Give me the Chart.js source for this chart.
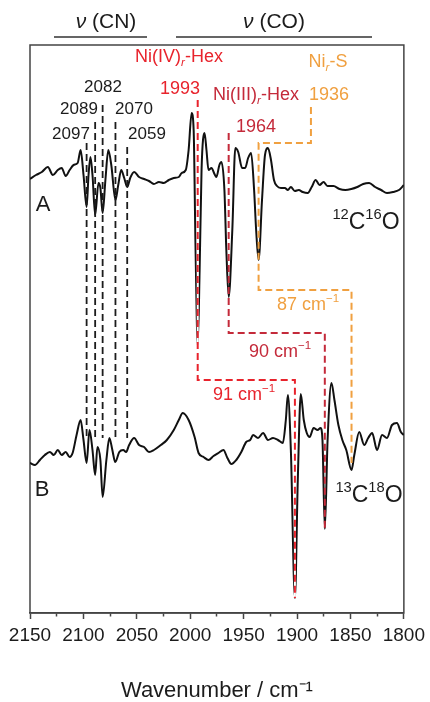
<!DOCTYPE html>
<html>
<head>
<meta charset="utf-8">
<script src="https://cdn.jsdelivr.net/npm/chart.js@4.4.1/dist/chart.umd.min.js"></script>
<style>
html, body { margin: 0; padding: 0; background: #fff; }
</style>
</head>
<body>
<canvas id="irChart" width="430" height="702"></canvas>
<script>
// IR difference spectra, intensities in arbitrary units
const waveA = [
	2150, 2144.4, 2138.9, 2133.3, 2128.6, 2124.0, 2120.3, 2116.6, 2112.9, 2109.2,
	2105.4, 2102.6, 2099.9, 2097, 2095.2, 2093.4, 2091.5, 2089, 2085.9, 2084.1,
	2082, 2079.4, 2076.7, 2073.9, 2070, 2067.4, 2064.6, 2061.8, 2059, 2056.2,
	2052.5, 2047.9, 2043.2, 2038.6, 2034.0, 2029.3, 2024.7, 2020.0, 2015.4, 2010.7,
	2008.0, 2004.2, 2001.5, 1998.7, 1996.8, 1995.0, 1993, 1991.2, 1989.4, 1986.6,
	1984.8, 1982.9, 1980.1, 1977.3, 1975.5, 1972.7, 1970.8, 1968.0, 1966.2, 1964,
	1960.6, 1957.8, 1955.1, 1951.4, 1948.6, 1945.8, 1943.0, 1940.2, 1938.3, 1936,
	1932.8, 1930.0, 1927.2, 1924.4, 1921.6, 1918.8, 1915.1, 1911.4, 1908.6, 1905.8,
	1902.1, 1898.4, 1894.7, 1890.0, 1886.3, 1882.6, 1878.9, 1875.2, 1871.5, 1865.9,
	1860.3, 1854.8, 1849.2, 1843.6, 1838.1, 1832.5, 1826.9, 1821.3, 1815.8, 1810.2,
	1804.6, 1800
];
const traceA = [
	434, 438, 441, 446, 438, 443, 445, 437, 443, 448,
	450, 463, 438, 406, 438, 456, 438, 398, 430, 425,
	400, 433, 463, 448, 413, 428, 443, 435, 426, 435,
	441, 436, 434, 432, 429, 431, 430, 433, 435, 436,
	440, 443, 463, 500, 483, 363, 268, 343, 443, 480,
	463, 443, 445, 439, 436, 448, 451, 423, 363, 316,
	383, 465, 461, 445, 445, 455, 460, 423, 383, 353,
	413, 458, 465, 453, 433, 427, 425, 425, 423, 426,
	422, 423, 421, 420, 426, 433, 428, 431, 427, 427,
	424, 423, 424, 426, 429, 430, 426, 423, 420, 421,
	423, 428
];
const waveB = [
	2150, 2145.4, 2140.7, 2136.1, 2131.4, 2127.7, 2124.0, 2120.3, 2116.6, 2112.9,
	2110.1, 2106.4, 2102.6, 2099.9, 2097, 2094.3, 2091.5, 2089, 2086.9, 2084.1,
	2082, 2078.5, 2075.7, 2072.9, 2070.2, 2066.4, 2062.7, 2060.0, 2057.2, 2052.5,
	2047.9, 2043.2, 2038.6, 2034.0, 2027.5, 2021.9, 2015.4, 2010.7, 2007.0, 2001.5,
	1995.9, 1992.2, 1987.5, 1982.9, 1978.2, 1973.6, 1968.9, 1965.2, 1961.5, 1956.9,
	1952.2, 1947.6, 1943.9, 1941.1, 1936.5, 1931.8, 1927.2, 1922.5, 1917.9, 1913.3,
	1910.5, 1908.6, 1905.8, 1902, 1899.3, 1896.5, 1893.7, 1890.9, 1888.2, 1884.5,
	1880.8, 1878.0, 1876.2, 1874, 1871.4, 1867.8, 1865.0, 1861.3, 1857.6, 1853.9,
	1849, 1846.4, 1841.8, 1837.1, 1833.4, 1829.7, 1825.1, 1820.4, 1815.8, 1811.1,
	1806.5, 1802.8, 1800
];
const traceB = [
	150, 148, 153, 158, 161, 158, 163, 158, 161, 156,
	160, 178, 193, 173, 150, 183, 163, 138, 166, 153,
	116, 153, 175, 163, 151, 161, 163, 161, 168, 175,
	168, 166, 161, 163, 168, 173, 183, 193, 200, 193,
	176, 160, 156, 153, 157, 160, 163, 155, 149, 153,
	161, 171, 173, 178, 175, 180, 173, 175, 173, 170,
	193, 218, 163, 15, 133, 219, 193, 180, 176, 185,
	183, 185, 173, 84, 173, 230, 213, 188, 173, 163,
	143, 158, 181, 168, 175, 180, 163, 178, 175, 188,
	190, 181, 178
];

// band positions (cm-1)
const cnPeaks = [2097, 2089, 2082, 2070, 2059];
const coPeaksA = [1993, 1964, 1936];
const isoShifts = [91, 90, 87];
const coPeaksB = coPeaksA.map((p, i) => p - isoShifts[i]);

const FONT = '"Liberation Sans", Arial, sans-serif';
const RED = '#e8232c';
const CRIMSON = '#c42a3a';
const ORANGE = '#f0a040';
const INK = '#1c1c1c';

function toPoints(xs, ys) {
	return xs.map((w, i) => ({ x: w, y: ys[i] }));
}

// draws text made of pieces: '' normal, 'it' italic, 'sub' italic subscript, 'sup' superscript
function richText(ctx, parts, cx, cy, size, color) {
	let total = 0;
	const pieces = parts.map(([t, kind]) => {
		const s = (kind === 'sub' || kind === 'sup') ? size * 0.64 : size;
		const font = ((kind === 'it' || kind === 'sub') ? 'italic ' : '') + s + 'px ' + FONT;
		ctx.font = font;
		const w = ctx.measureText(t).width;
		total += w;
		return { t, kind, font, w };
	});
	let x = cx - total / 2;
	ctx.fillStyle = color;
	ctx.textAlign = 'left';
	ctx.textBaseline = 'middle';
	pieces.forEach(p => {
		let y = cy;
		if (p.kind === 'sub') y = cy + size * 0.32;
		if (p.kind === 'sup') y = cy - size * 0.36;
		ctx.font = p.font;
		ctx.fillText(p.t, x, y);
		x += p.w;
	});
}

const boxPlugin = {
	id: 'box',
	beforeDatasetsDraw(chart) {
		const { ctx, chartArea: a } = chart;
		ctx.save();
		ctx.strokeStyle = '#444';
		ctx.lineWidth = 1.5;
		ctx.strokeRect(a.left, a.top, a.right - a.left, a.bottom - a.top);
		ctx.restore();
	}
};

const guidePlugin = {
	id: 'guides',
	afterDatasetsDraw(chart) {
		const { ctx, scales: { x, y } } = chart;
		const path = (pts, color, width, under) => {
			ctx.save();
			ctx.beginPath();
			pts.forEach(([w, v], i) => {
				const px = x.getPixelForValue(w), py = y.getPixelForValue(v);
				if (i === 0) ctx.moveTo(px, py); else ctx.lineTo(px, py);
			});
			if (under) {
				ctx.strokeStyle = '#fff';
				ctx.lineWidth = width;
				ctx.stroke();
			}
			ctx.setLineDash([7, 4]);
			ctx.strokeStyle = color;
			ctx.lineWidth = width;
			ctx.stroke();
			ctx.restore();
		};
		const cnTop = [470, 491, 508, 491, 466];
		cnPeaks.forEach((p, i) => path([[p, cnTop[i]], [p, 175]], INK, 1.8, false));

		path([[coPeaksA[0], 513], [coPeaksA[0], 233], [coPeaksB[0], 233], [coPeaksB[0], 15]], RED, 2, true);
		path([[coPeaksA[1], 480], [coPeaksA[1], 280], [coPeaksB[1], 280], [coPeaksB[1], 85]], CRIMSON, 2, false);
		path([[1887, 506], [1887, 470], [coPeaksA[2], 470], [coPeaksA[2], 323], [coPeaksB[2], 323], [coPeaksB[2], 150]], ORANGE, 2, false);
	},
	afterDraw(chart) {
		const { ctx } = chart;
		ctx.save();
		// band group headers
		richText(ctx, [['ν', 'it'], [' (CN)', '']], 106, 22, 21, INK);
		richText(ctx, [['ν', 'it'], [' (CO)', '']], 274, 22, 21, INK);
		ctx.strokeStyle = '#333';
		ctx.lineWidth = 1.5;
		ctx.beginPath();
		ctx.moveTo(54, 37); ctx.lineTo(147, 37);
		ctx.moveTo(176, 37); ctx.lineTo(372, 37);
		ctx.stroke();

		// CN band labels
		const cnPos = [[71, 134], [79, 109], [103, 87], [134, 109], [147, 134]];
		cnPeaks.forEach((p, i) => richText(ctx, [[String(p), '']], cnPos[i][0], cnPos[i][1], 17, INK));

		// CO band labels
		richText(ctx, [['Ni(IV)', ''], ['r', 'sub'], ['-Hex', '']], 179, 57, 18, RED);
		richText(ctx, [[String(coPeaksA[0]), '']], 180, 89, 18, RED);
		richText(ctx, [['Ni(III)', ''], ['r', 'sub'], ['-Hex', '']], 256, 95, 18, CRIMSON);
		richText(ctx, [[String(coPeaksA[1]), '']], 256, 127, 18, CRIMSON);
		richText(ctx, [['Ni', ''], ['r', 'sub'], ['-S', '']], 328, 62, 18, ORANGE);
		richText(ctx, [[String(coPeaksA[2]), '']], 329, 95, 18, ORANGE);

		// isotope shifts
		richText(ctx, [[isoShifts[2] + ' cm', ''], ['−1', 'sup']], 308, 305, 18, ORANGE);
		richText(ctx, [[isoShifts[1] + ' cm', ''], ['−1', 'sup']], 280, 352, 18, CRIMSON);
		richText(ctx, [[isoShifts[0] + ' cm', ''], ['−1', 'sup']], 244, 395, 18, RED);

		// trace labels
		richText(ctx, [['A', '']], 43, 205, 22, INK);
		richText(ctx, [['B', '']], 42, 490, 22, INK);
		richText(ctx, [['12', 'sup'], ['C', ''], ['16', 'sup'], ['O', '']], 366, 223, 23, INK);
		richText(ctx, [['13', 'sup'], ['C', ''], ['18', 'sup'], ['O', '']], 369, 496, 23, INK);
		ctx.restore();
	}
};

new Chart(document.getElementById('irChart'), {
	type: 'line',
	data: {
		datasets: [
			{
				label: '12C16O',
				data: toPoints(waveA, traceA),
				borderColor: '#111',
				borderWidth: 2,
				pointRadius: 0,
				cubicInterpolationMode: 'monotone'
			},
			{
				label: '13C18O',
				data: toPoints(waveB, traceB),
				borderColor: '#111',
				borderWidth: 2,
				pointRadius: 0,
				cubicInterpolationMode: 'monotone'
			}
		]
	},
	options: {
		responsive: false,
		animation: false,
		layout: { padding: { left: 30, right: 23, top: 45, bottom: 0 } },
		plugins: {
			legend: { display: false },
			tooltip: { enabled: false }
		},
		scales: {
			x: {
				type: 'linear',
				reverse: true,
				min: 1800,
				max: 2150,
				afterFit(scale) { scale.height = 89; },
				ticks: {
					stepSize: 25,
					autoSkip: false,
					maxRotation: 0,
					padding: 5,
					color: INK,
					font: { size: 19, family: FONT },
					callback: v => (v % 50 === 0 ? String(v) : '')
				},
				grid: {
					drawOnChartArea: false,
					tickLength: 6,
					tickWidth: 1.5,
					tickColor: '#444',
					tickBorderDash: ctx => (ctx.tick && ctx.tick.value % 50 !== 0 ? [3, 20] : [])
				},
				border: { color: '#444', width: 1.5 },
				title: {
					display: true,
					text: 'Wavenumber / cm⁻¹',
					color: INK,
					padding: 0,
					font: { size: 22, family: FONT, lineHeight: 1 }
				}
			},
			y: {
				display: false,
				min: 0,
				max: 568
			}
		}
	},
	plugins: [boxPlugin, guidePlugin]
});
</script>
</body>
</html>
